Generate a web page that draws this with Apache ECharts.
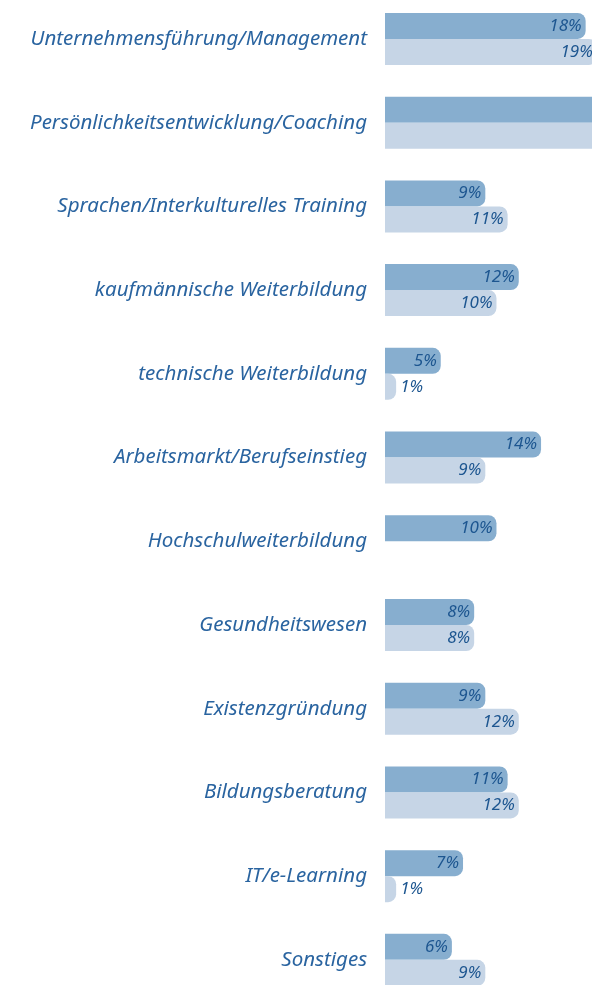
<!DOCTYPE html>
<html><head><meta charset="utf-8">
<script src="https://cdn.jsdelivr.net/npm/echarts@6/dist/echarts.min.js"></script>
<style>html,body{margin:0;padding:0;background:#fff}#c{width:592px;height:985px}</style>
</head><body><div id="c"></div>
<script>
const categories = [
  'Unternehmensführung/Management',
  'Persönlichkeitsentwicklung/Coaching',
  'Sprachen/Interkulturelles Training',
  'kaufmännische Weiterbildung',
  'technische Weiterbildung',
  'Arbeitsmarkt/Berufseinstieg',
  'Hochschulweiterbildung',
  'Gesundheitswesen',
  'Existenzgründung',
  'Bildungsberatung',
  'IT/e-Learning',
  'Sonstiges'
];
const seriesA = [18, 24, 9, 12, 5, 14, 10, 8, 9, 11, 7, 6];
const seriesB = [19, 23, 11, 10, 1, 9, null, 8, 12, 12, 1, 9];

const labelBase = {
  show: true, position: 'insideRight', distance: 4,
  formatter: '{c}%', color: '#1d5690', fontStyle: 'italic',
  fontFamily: 'Noto Sans', fontSize: 17
};
function mk(vals) {
  return vals.map(v => v == null ? null : {
    value: v,
    label: v < 3 ? { position: 'right', distance: 4 } : {}
  });
}
const chart = echarts.init(document.getElementById('c'), null, { renderer: 'canvas' });
chart.setOption({
  animation: false,
  grid: { left: 385, right: 0, top: -2.9, bottom: -16.7, containLabel: false, outerBoundsMode: 'none' },
  xAxis: { type: 'value', min: 0, max: 18.57, show: false },
  yAxis: {
    type: 'category', data: categories, inverse: true,
    axisLine: { show: false }, axisTick: { show: false },
    axisLabel: { margin: 18, color: '#2a64a0', fontStyle: 'italic', fontFamily: 'Noto Sans', fontSize: 20.5 }
  },
  series: [
    { type: 'bar', clip: false, data: mk(seriesA), barWidth: 26, barGap: '0%', itemStyle: { color: '#87aecf', borderRadius: [0, 8, 8, 0] }, label: labelBase },
    { type: 'bar', clip: false, data: mk(seriesB), barWidth: 26, barGap: '0%', itemStyle: { color: '#c6d5e6', borderRadius: [0, 8, 8, 0] }, label: labelBase }
  ]
});
</script></body></html>
